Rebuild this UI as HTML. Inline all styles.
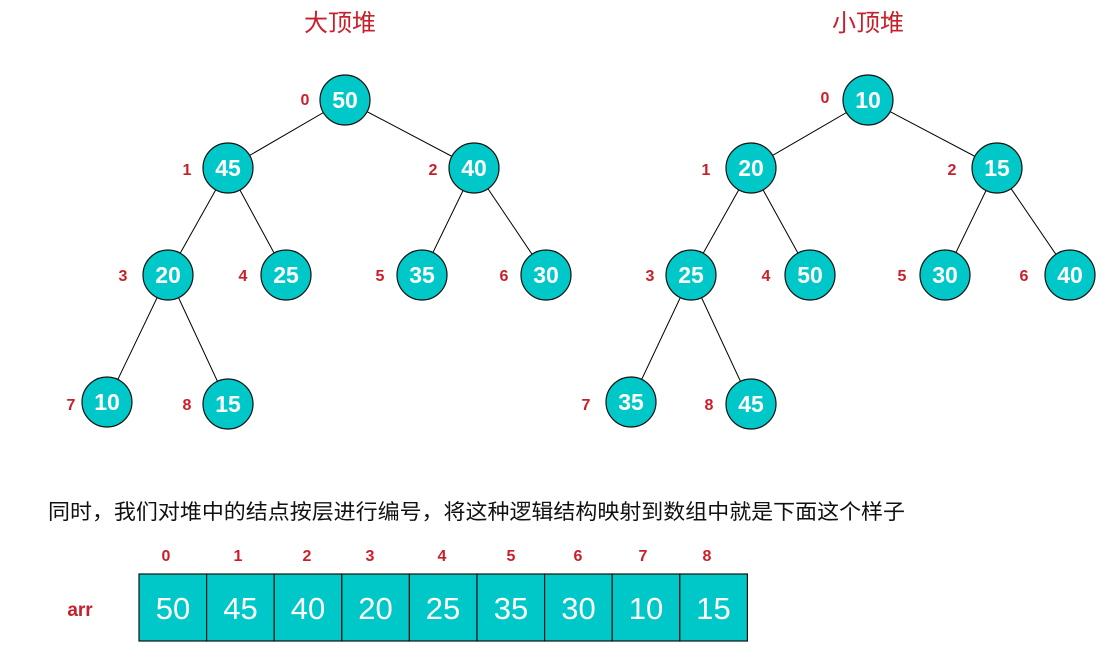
<!DOCTYPE html>
<html><head><meta charset="utf-8"><style>
body{margin:0;background:#fff;width:1105px;height:661px;overflow:hidden}
svg text{font-family:"Liberation Sans","Noto Sans CJK SC",sans-serif}
.n{fill:#fff;font-weight:bold;font-size:23px;text-anchor:middle}
.l{fill:#c8202a;font-weight:bold;font-size:16px;text-anchor:middle}
.t{fill:#c8202a;font-size:24px;text-anchor:middle}
</style></head><body>
<svg width="1105" height="661" xmlns="http://www.w3.org/2000/svg">
<g stroke="#000" stroke-width="1">
<line x1="345" y1="100" x2="228" y2="168"/><line x1="345" y1="100" x2="474" y2="168"/>
<line x1="228" y1="168" x2="168" y2="275"/><line x1="228" y1="168" x2="286" y2="275"/>
<line x1="474" y1="168" x2="422" y2="275"/><line x1="474" y1="168" x2="546" y2="275"/>
<line x1="168" y1="275" x2="107" y2="402"/><line x1="168" y1="275" x2="228" y2="404"/>
<line x1="868" y1="100" x2="751" y2="168"/><line x1="868" y1="100" x2="997" y2="168"/>
<line x1="751" y1="168" x2="691" y2="275"/><line x1="751" y1="168" x2="810" y2="275"/>
<line x1="997" y1="168" x2="945" y2="275"/><line x1="997" y1="168" x2="1070" y2="275"/>
<line x1="691" y1="275" x2="631" y2="402"/><line x1="691" y1="275" x2="751" y2="404"/>
</g>
<g fill="#00c8c8" stroke="#111" stroke-width="1.2">
<circle cx="345" cy="100" r="25"/><circle cx="228" cy="168" r="25"/><circle cx="474" cy="168" r="25"/>
<circle cx="168" cy="275" r="25"/><circle cx="286" cy="275" r="25"/><circle cx="422" cy="275" r="25"/>
<circle cx="546" cy="275" r="25"/><circle cx="107" cy="402" r="25"/><circle cx="228" cy="404" r="25"/>
<circle cx="868" cy="100" r="25"/><circle cx="751" cy="168" r="25"/><circle cx="997" cy="168" r="25"/>
<circle cx="691" cy="275" r="25"/><circle cx="810" cy="275" r="25"/><circle cx="945" cy="275" r="25"/>
<circle cx="1070" cy="275" r="25"/><circle cx="631" cy="402" r="25"/><circle cx="751" cy="404" r="25"/>
</g>
<g>
<text x="345" y="108" class="n">50</text><text x="228" y="176" class="n">45</text><text x="474" y="176" class="n">40</text>
<text x="168" y="283" class="n">20</text><text x="286" y="283" class="n">25</text><text x="422" y="283" class="n">35</text>
<text x="546" y="283" class="n">30</text><text x="107" y="410" class="n">10</text><text x="228" y="412" class="n">15</text>
<text x="868" y="108" class="n">10</text><text x="751" y="176" class="n">20</text><text x="997" y="176" class="n">15</text>
<text x="691" y="283" class="n">25</text><text x="810" y="283" class="n">50</text><text x="945" y="283" class="n">30</text>
<text x="1070" y="283" class="n">40</text><text x="631" y="410" class="n">35</text><text x="751" y="412" class="n">45</text>
</g>
<g>
<text x="305" y="105" class="l">0</text><text x="187" y="175" class="l">1</text><text x="433" y="175" class="l">2</text>
<text x="123" y="281" class="l">3</text><text x="243" y="281" class="l">4</text><text x="380" y="281" class="l">5</text>
<text x="504" y="281" class="l">6</text><text x="71" y="410" class="l">7</text><text x="187" y="410" class="l">8</text>
<text x="825" y="103" class="l">0</text><text x="706" y="175" class="l">1</text><text x="952" y="175" class="l">2</text>
<text x="650" y="281" class="l">3</text><text x="766" y="281" class="l">4</text><text x="902" y="281" class="l">5</text>
<text x="1024" y="281" class="l">6</text><text x="586" y="410" class="l">7</text><text x="709" y="410" class="l">8</text>
</g>
<text x="340" y="31" class="t">大顶堆</text>
<text x="868" y="31" class="t">小顶堆</text>
<text x="48" y="519" font-size="21" fill="#111" textLength="857" lengthAdjust="spacingAndGlyphs">同时，我们对堆中的结点按层进行编号，将这种逻辑结构映射到数组中就是下面这个样子</text>
<text x="80" y="616" class="l" style="font-size:19px">arr</text>
<g fill="#00c8c8" stroke="#111" stroke-width="1.2">
<rect x="139" y="574" width="67.6" height="67"/><rect x="206.6" y="574" width="67.6" height="67"/>
<rect x="274.2" y="574" width="67.6" height="67"/><rect x="341.8" y="574" width="67.6" height="67"/>
<rect x="409.4" y="574" width="67.6" height="67"/><rect x="477" y="574" width="67.6" height="67"/>
<rect x="544.6" y="574" width="67.6" height="67"/><rect x="612.2" y="574" width="67.6" height="67"/>
<rect x="679.8" y="574" width="67.6" height="67"/>
</g>
<g fill="#fff" font-size="31" text-anchor="middle">
<text x="173" y="619">50</text><text x="240.5" y="619">45</text><text x="308" y="619">40</text>
<text x="375.5" y="619">20</text><text x="443" y="619">25</text><text x="511" y="619">35</text>
<text x="578.5" y="619">30</text><text x="646" y="619">10</text><text x="713.5" y="619">15</text>
</g>
<g>
<text x="166" y="561" class="l">0</text><text x="238" y="561" class="l">1</text><text x="307" y="561" class="l">2</text>
<text x="370" y="561" class="l">3</text><text x="442" y="561" class="l">4</text><text x="511" y="561" class="l">5</text>
<text x="578" y="561" class="l">6</text><text x="643" y="561" class="l">7</text><text x="707" y="561" class="l">8</text>
</g>
</svg>
</body></html>
